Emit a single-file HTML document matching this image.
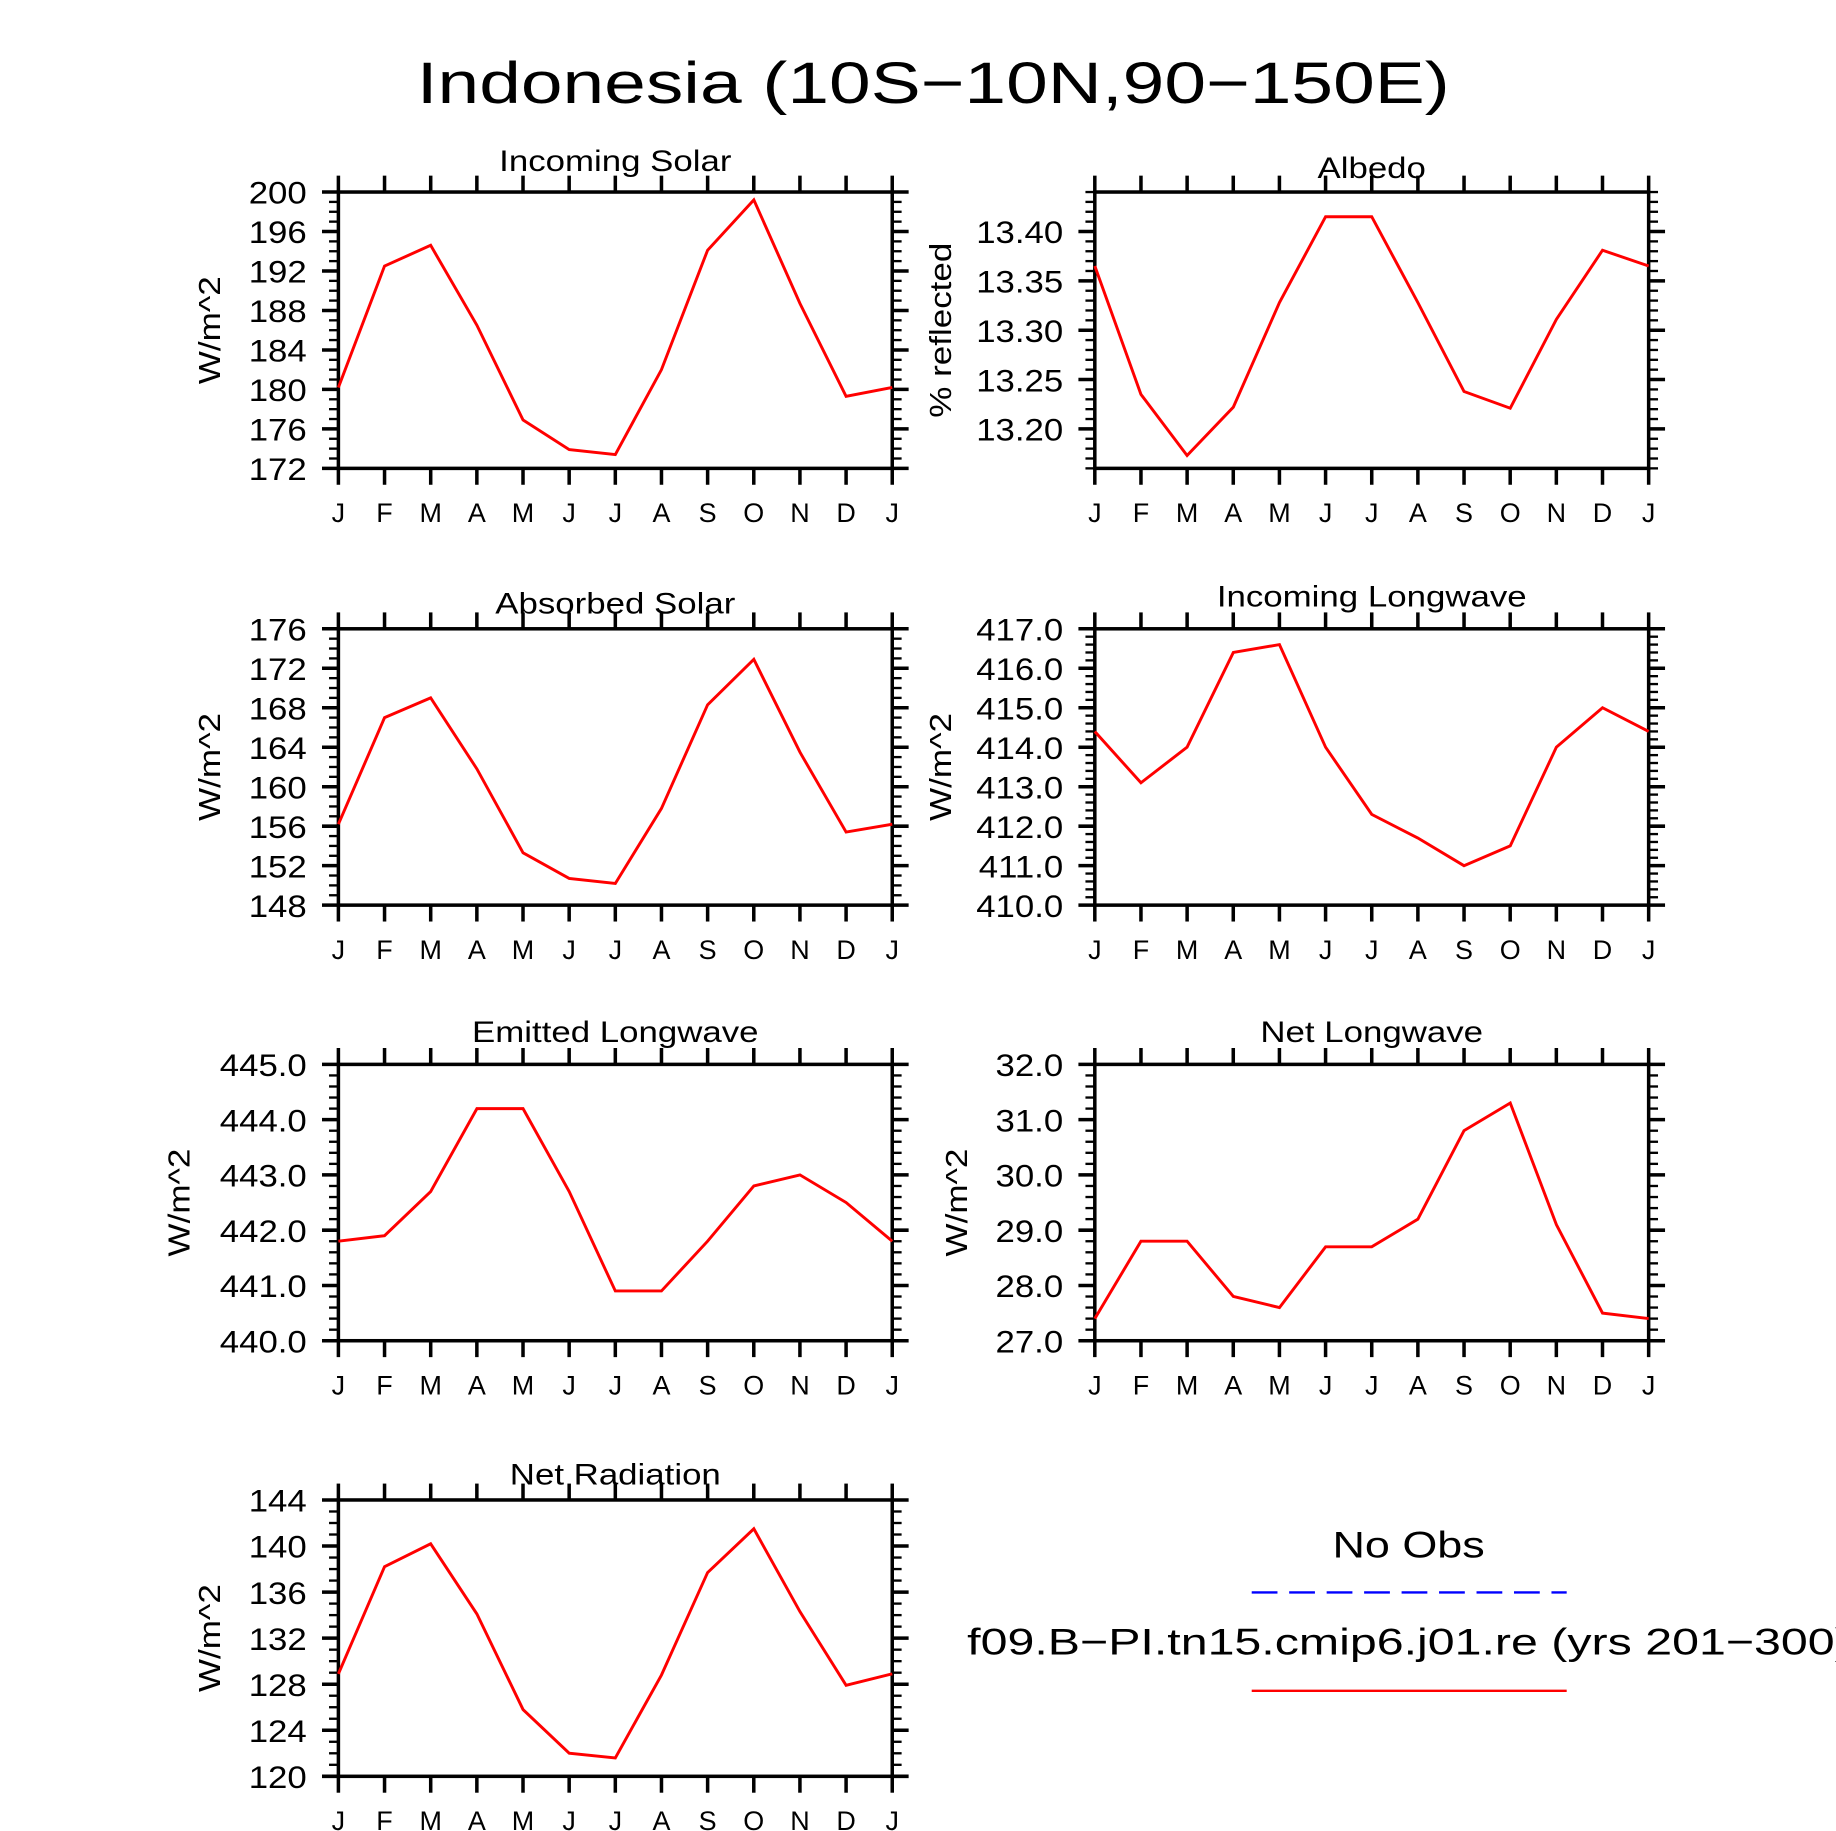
<!DOCTYPE html>
<html><head><meta charset="utf-8"><style>
html,body{margin:0;padding:0;background:#fff;}
svg{display:block;font-family:"Liberation Sans",sans-serif;}
</style></head><body>
<svg id="fig" width="1836" height="1831" viewBox="0 0 1568 1563.7" preserveAspectRatio="none" xmlns="http://www.w3.org/2000/svg">
<text id="mainTitle" x="797" y="88" text-anchor="middle" font-size="50" fill="#000">Indonesia (10S−10N,90−150E)</text>
<g>
<text id="legObs" x="1203" y="1330" text-anchor="middle" font-size="32">No Obs</text>
<line x1="1069" y1="1360" x2="1338" y2="1360" stroke="#0000ff" stroke-width="2" stroke-dasharray="22,10"/>
<text id="legModel" x="826" y="1413" font-size="32">f09.B−PI.tn15.cmip6.j01.re (yrs 201−300)</text>
<line x1="1069" y1="1444" x2="1338" y2="1444" stroke="#ff0000" stroke-width="2"/>
</g>
</svg>
<script>
const months = ["J","F","M","A","M","J","J","A","S","O","N","D","J"];
const incomingSolar = [180.2,192.5,194.6,186.5,176.9,173.9,173.4,182.0,194.1,199.2,188.7,179.3,180.2];
const albedo = [13.365,13.235,13.173,13.222,13.328,13.415,13.415,13.328,13.238,13.221,13.311,13.381,13.365];
const absorbedSolar = [156.2,167.0,169.0,161.8,153.3,150.7,150.2,157.8,168.3,172.9,163.5,155.4,156.2];
const incomingLW = [414.4,413.1,414.0,416.4,416.6,414.0,412.3,411.7,411.0,411.5,414.0,415.0,414.4];
const emittedLW = [441.8,441.9,442.7,444.2,444.2,442.7,440.9,440.9,441.8,442.8,443.0,442.5,441.8];
const netLW = [27.4,28.8,28.8,27.8,27.6,28.7,28.7,29.2,30.8,31.3,29.1,27.5,27.4];
const netRad = [128.9,138.2,140.2,134.1,125.8,122.0,121.6,128.8,137.7,141.5,134.3,127.9,128.9];
const ticksSolar = ["172","176","180","184","188","192","196","200"];
const ticksAlbedo = ["13.20","13.25","13.30","13.35","13.40"];
const ticksAbs = ["148","152","156","160","164","168","172","176"];
const ticksILW = ["410.0","411.0","412.0","413.0","414.0","415.0","416.0","417.0"];
const ticksELW = ["440.0","441.0","442.0","443.0","444.0","445.0"];
const ticksNLW = ["27.0","28.0","29.0","30.0","31.0","32.0"];
const ticksNR = ["120","124","128","132","136","140","144"];

const NS="http://www.w3.org/2000/svg";
const svg=document.getElementById('fig');
function mk(tag,attrs,parent){const e=document.createElementNS(NS,tag);for(const k in attrs)e.setAttribute(k,attrs[k]);(parent||svg).appendChild(e);return e;}
function stretch(el,f){const L=el.getComputedTextLength();if(L>0){el.setAttribute('textLength',(L*f).toFixed(1));el.setAttribute('lengthAdjust','spacingAndGlyphs');}}

const panels=[
 {name:"incoming-solar",title:"Incoming Solar",ylab:"W/m^2",data:incomingSolar,ticks:ticksSolar,min:172,max:200,minor:1,x:289,y:164,ty:146,labx:188},
 {name:"albedo",title:"Albedo",ylab:"% reflected",data:albedo,ticks:ticksAlbedo,min:13.16,max:13.44,minor:0.01,x:935,y:164,ty:152,labx:812},
 {name:"absorbed-solar",title:"Absorbed Solar",ylab:"W/m^2",data:absorbedSolar,ticks:ticksAbs,min:148,max:176,minor:1,x:289,y:537,ty:524,labx:188},
 {name:"incoming-longwave",title:"Incoming Longwave",ylab:"W/m^2",data:incomingLW,ticks:ticksILW,min:410,max:417,minor:0.2,x:935,y:537,ty:518,labx:812},
 {name:"emitted-longwave",title:"Emitted Longwave",ylab:"W/m^2",data:emittedLW,ticks:ticksELW,min:440,max:445,minor:0.2,x:289,y:909,ty:890,labx:162},
 {name:"net-longwave",title:"Net Longwave",ylab:"W/m^2",data:netLW,ticks:ticksNLW,min:27,max:32,minor:0.2,x:935,y:909,ty:890,labx:826},
 {name:"net-radiation",title:"Net Radiation",ylab:"W/m^2",data:netRad,ticks:ticksNR,min:120,max:144,minor:1,x:289,y:1281,ty:1268,labx:188}
];
const W=473,H=236;
panels.forEach(p=>{
 const g=mk('g',{});
 
 
 const xs=i=>p.x+i*W/12;
 const ys=v=>p.y+H-(v-p.min)/(p.max-p.min)*H;
 const t=mk('text',{x:p.x+W/2,y:p.ty,'text-anchor':'middle','font-size':25},g);t.textContent=p.title;
 
 
 stretch(t,1.19);
 const yl=mk('text',{x:0,y:0,'text-anchor':'middle','font-size':26,transform:`translate(${p.labx},${p.y+H/2}) rotate(-90)`},g);yl.textContent=p.ylab;
 
 
 stretch(yl,1.15);
 const start=Math.ceil(p.min/p.minor-1e-6);
 for(let k=start;k*p.minor<=p.max+1e-9;k++){
  const yy=ys(k*p.minor);
  mk('line',{x1:p.x-8,x2:p.x,y1:yy,y2:yy,stroke:'#000','stroke-width':2},g);
  mk('line',{x1:p.x+W,x2:p.x+W+8,y1:yy,y2:yy,stroke:'#000','stroke-width':2},g);
 }
 p.ticks.forEach(s=>{
  const yy=ys(parseFloat(s));
  mk('line',{x1:p.x-14,x2:p.x,y1:yy,y2:yy,stroke:'#000','stroke-width':3},g);
  mk('line',{x1:p.x+W,x2:p.x+W+14,y1:yy,y2:yy,stroke:'#000','stroke-width':3},g);
  const tl=mk('text',{x:p.x-27,y:yy+10,'text-anchor':'end','font-size':27},g);tl.textContent=s;
  
  
  stretch(tl,1.1);
 });
 months.forEach((m,i)=>{
  const xx=xs(i);
  mk('line',{x1:xx,x2:xx,y1:p.y-14,y2:p.y,stroke:'#000','stroke-width':3},g);
  mk('line',{x1:xx,x2:xx,y1:p.y+H,y2:p.y+H+14,stroke:'#000','stroke-width':3},g);
  const ml=mk('text',{x:xx,y:p.y+H+46,'text-anchor':'middle','font-size':23},g);ml.textContent=m;
  
  
 });
 const fr=mk('rect',{x:p.x,y:p.y,width:W,height:H,fill:'none',stroke:'#000','stroke-width':3},g);
 
 
 const pts=p.data.map((v,i)=>xs(i).toFixed(1)+','+ys(v).toFixed(1)).join(' ');
 const ln=mk('polyline',{points:pts,fill:'none',stroke:'#ff0000','stroke-width':2.5,'stroke-linejoin':'miter'},g);
 
 
});
stretch(document.getElementById('mainTitle'),1.28);
stretch(document.getElementById('legObs'),1.2);
stretch(document.getElementById('legModel'),1.29);
</script>
</body></html>
